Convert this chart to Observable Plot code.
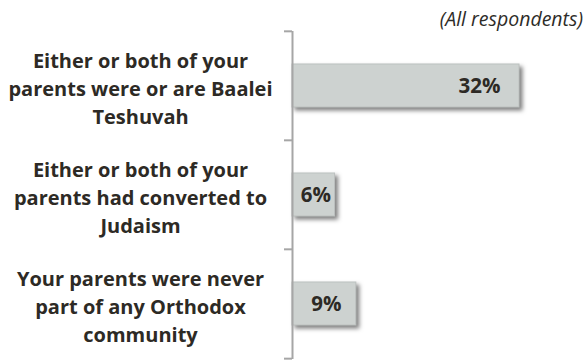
<!DOCTYPE html>
<html>
<head>
<meta charset="utf-8">
<script src="https://cdn.jsdelivr.net/npm/d3@7"></script>
<script src="https://cdn.jsdelivr.net/npm/@observablehq/plot@0.6"></script>
<style>
  html, body { margin: 0; padding: 0; background: #fff; }
  #wrap { width: 586px; }
  #sub { height: 30px; box-sizing: border-box; padding-top: 7px; padding-right: 3px; text-align: right; white-space: nowrap;
         font-family: "Open Sans", sans-serif; font-style: italic; font-size: 19.5px; line-height: 1.2; color: #2e2c28; }
</style>
</head>
<body>
<div id="wrap">
  <div id="sub">(All respondents)</div>
  <div id="chart"></div>
</div>
<script>
const categories = [
  "Either or both of your\nparents were or are Baalei\nTeshuvah",
  "Either or both of your\nparents had converted to\nJudaism",
  "Your parents were never\npart of any Orthodox\ncommunity"
];
const values = [32, 6, 9];
const valueLabels = ["32%", "6%", "9%"];

const data = categories.map((c, i) => ({cat: c, v: values[i], label: valueLabels[i]}));

const W = 586, H = 330, mTop = 1, mBottom = 1;
const step = (H - mTop - mBottom) / categories.length;
const textColor = "#2d2a25";
const font = "'Open Sans', sans-serif";

const chart = Plot.plot({
  width: W,
  height: H,
  marginLeft: 292,
  marginRight: 67,
  marginTop: mTop,
  marginBottom: mBottom,
  style: {fontFamily: font, background: "#fff", overflow: "visible"},
  x: {domain: [0, 32], axis: null},
  y: {domain: categories, axis: null, paddingInner: 0.604, paddingOuter: 0.302},
  marks: [
    Plot.barX(data, {y: "cat", x: "v", fill: "#cdd2d0", stroke: "#bcc1bf", strokeWidth: 1}),
    Plot.ruleX([0], {stroke: "#a6a6a6", strokeWidth: 2}),
    Plot.axisY({label: null, tickSize: 8, tickFormat: () => "", dy: -step / 2, stroke: "#a6a6a6", strokeWidth: 2}),
    Plot.axisY({label: null, ticks: [categories[categories.length - 1]], tickSize: 8, tickFormat: () => "", dy: step / 2, stroke: "#a6a6a6", strokeWidth: 2}),
    Plot.text(data, {y: "cat", text: "cat", frameAnchor: "left", dx: -152, dy: 1, textAnchor: "middle",
      lineHeight: 1.41, fontSize: 20, fontWeight: "bold", fill: textColor}),
    Plot.text(data.filter(d => d.v >= 15), {y: "cat", x: "v", text: "label", textAnchor: "end", dx: -19,
      fontSize: 20.5, fontWeight: "bold", fill: textColor}),
    Plot.text(data.filter(d => d.v < 15), {y: "cat", x: d => d.v / 2, text: "label", textAnchor: "middle", dx: 2,
      fontSize: 20.5, fontWeight: "bold", fill: textColor})
  ]
});
d3.select(chart).selectAll('g[aria-label="bar"] rect')
  .style("filter", "drop-shadow(3px 3px 2px rgba(0,0,0,0.5))");
document.getElementById("chart").appendChild(chart);
</script>
</body>
</html>
